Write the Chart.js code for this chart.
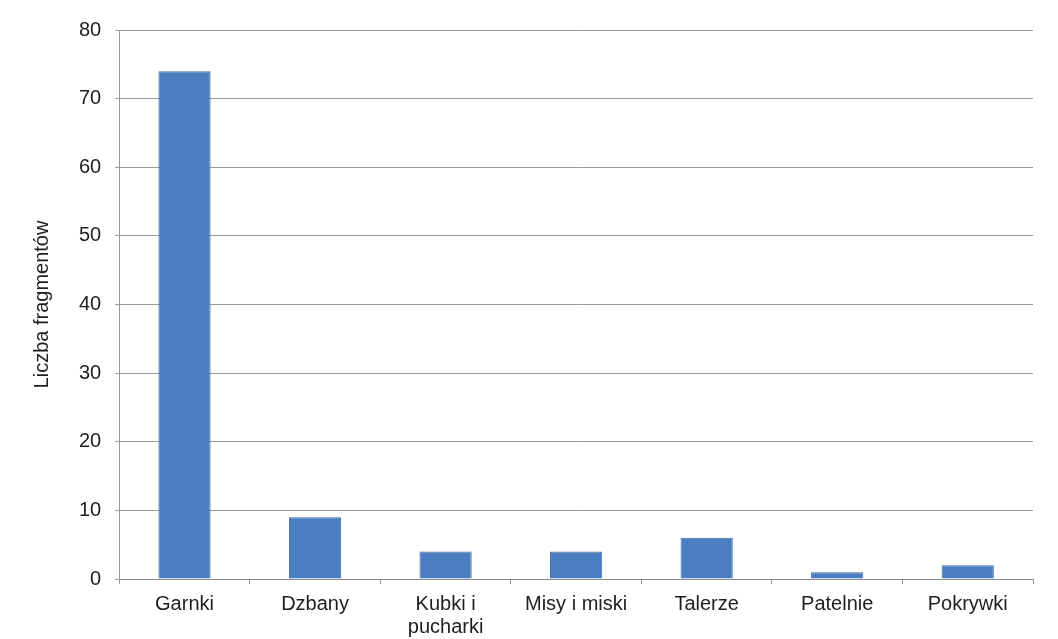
<!DOCTYPE html>
<html>
<head>
<meta charset="utf-8">
<script src="https://cdn.jsdelivr.net/npm/chart.js@4"></script>
<style>
  html, body { margin: 0; padding: 0; background: #fff; }
  #wrap { width: 1058px; height: 639px; }
</style>
</head>
<body>
<div id="wrap"><canvas id="wykres"></canvas></div>
<script>
// Liczba fragmentów naczyń wg kategorii
const kategorie = ['Garnki', 'Dzbany', ['Kubki i', 'pucharki'], 'Misy i miski', 'Talerze', 'Patelnie', 'Pokrywki']
const liczby = [74, 9, 4, 4, 6, 1, 2]
const osY = { min: 0, max: 80, krok: 10 }

Chart.defaults.font.family = '"Liberation Sans", Arial, sans-serif'
Chart.defaults.font.size = 20
Chart.defaults.color = '#1e1e1e'

const ctx = document.getElementById('wykres')

new Chart(ctx, {
    type: 'bar',
    data: {
        labels: kategorie,
        datasets: [{
            data: liczby,
            backgroundColor: '#4a7ec0',
            borderColor: '#3f6dab',
            borderWidth: 1,
            categoryPercentage: 1,
            barPercentage: 0.4
        }]
    },
    options: {
        responsive: true,
        maintainAspectRatio: false,
        animation: false,
        layout: { padding: { top: 30, right: 25, left: 26, bottom: -9 } },
        plugins: {
            legend: { display: false },
            tooltip: { enabled: false }
        },
        scales: {
            x: {
                grid: {
                    offset: true,
                    drawOnChartArea: false,
                    drawTicks: true,
                    tickLength: 5,
                    color: '#999'
                },
                border: { color: '#888', width: 1 },
                ticks: {
                    padding: 9,
                    maxRotation: 0,
                    font: { size: 20, lineHeight: 1.15 }
                }
            },
            y: {
                min: osY.min,
                max: osY.max,
                ticks: { stepSize: osY.krok, padding: 14 },
                grid: { color: '#999', tickLength: 4 },
                border: { color: '#999', width: 1 },
                title: {
                    display: true,
                    text: 'Liczba fragmentów',
                    font: { size: 20 },
                    padding: { top: 4, bottom: 11 }
                }
            }
        }
    }
})
</script>
</body>
</html>
